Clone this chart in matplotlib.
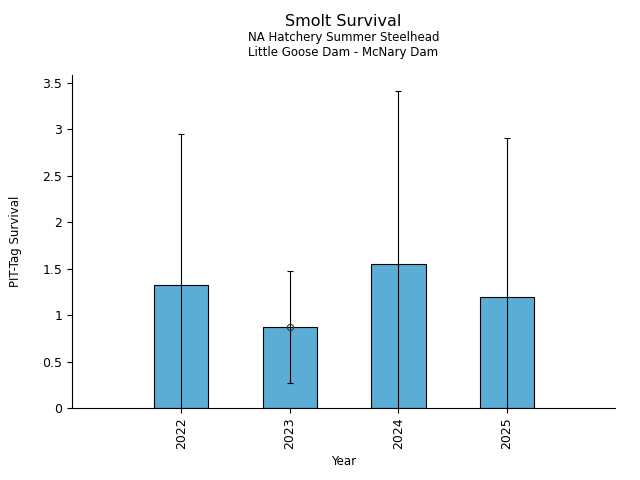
import matplotlib
matplotlib.use("Agg")
import matplotlib.pyplot as plt
import numpy as np
from matplotlib.ticker import FuncFormatter

years = ["2022", "2023", "2024", "2025"]
survival = [1.325, 0.872, 1.55, 1.195]
err = [1.625, 0.60, 1.86, 1.715]
marker_year = "2023"

bar_color = "#5badd6"

fig = plt.figure(figsize=(6.4, 4.8), dpi=100)
ax = fig.add_axes([0.1125, 0.15, 0.8485, 0.694])

x = np.arange(len(years))
ax.bar(x, survival, width=0.5, color=bar_color, edgecolor="black", linewidth=0.8, zorder=2)
ax.errorbar(x, survival, yerr=err, fmt="none", ecolor="black", elinewidth=0.8,
            capsize=2.5, capthick=0.8, zorder=3)
mi = years.index(marker_year)
ax.plot(x[mi], survival[mi], marker="o", markersize=4.5, markerfacecolor="none",
        markeredgecolor="#333333", markeredgewidth=0.8, zorder=4)

ax.set_xlim(-1.005, 3.995)
ax.set_ylim(0, 3.586)
ax.set_xticks(x)
ax.set_xticklabels(years, rotation=90, fontsize=9)
ax.set_yticks(np.arange(0, 3.51, 0.5))
ax.yaxis.set_major_formatter(FuncFormatter(lambda v, p: f"{v:g}"))
ax.tick_params(axis="y", labelsize=9)

for side in ["top", "right"]:
    ax.spines[side].set_visible(False)

ax.set_xlabel("Year", fontsize=8.5)
ax.set_ylabel("PIT-Tag Survival", fontsize=8.5)
ax.yaxis.set_label_coords(-0.092, 0.5)

cx = 0.1125 + 0.8485 / 2
fig.text(cx, 1 - 22 / 480, "Smolt Survival", ha="center", va="center", fontsize=11.5)
fig.text(cx, 1 - 37.5 / 480, "NA Hatchery Summer Steelhead", ha="center", va="center", fontsize=8.5)
fig.text(cx, 1 - 52.5 / 480, "Little Goose Dam - McNary Dam", ha="center", va="center", fontsize=8.5)

fig.savefig("out.png", dpi=100)
